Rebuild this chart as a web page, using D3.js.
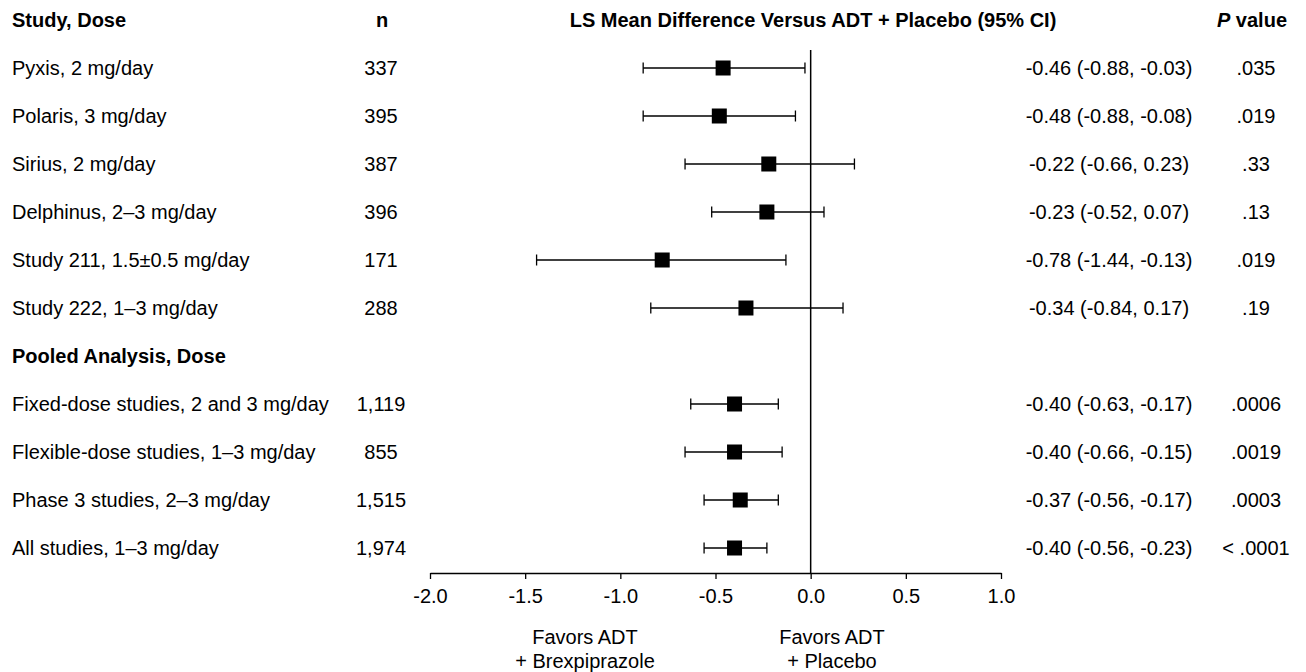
<!DOCTYPE html>
<html>
<head>
<meta charset="utf-8">
<script src="https://cdn.jsdelivr.net/npm/d3@7"></script>
<style>
  body { margin: 0; background: #fff; }
  text { font-family: "Liberation Sans", Arial, sans-serif; font-size: 20px; fill: #000; }
  .bold { font-weight: bold; }
</style>
</head>
<body>
<div id="chart"></div>
<script>
// forest plot data
var labels = ["Pyxis, 2 mg/day", "Polaris, 3 mg/day", "Sirius, 2 mg/day", "Delphinus, 2\u20133 mg/day",
  "Study 211, 1.5\u00b10.5 mg/day", "Study 222, 1\u20133 mg/day",
  "Fixed-dose studies, 2 and 3 mg/day", "Flexible-dose studies, 1\u20133 mg/day",
  "Phase 3 studies, 2\u20133 mg/day", "All studies, 1\u20133 mg/day"];
var nValues = ["337", "395", "387", "396", "171", "288", "1,119", "855", "1,515", "1,974"];
var estimates = [-0.46, -0.48, -0.22, -0.23, -0.78, -0.34, -0.40, -0.40, -0.37, -0.40];
var lower = [-0.88, -0.88, -0.66, -0.52, -1.44, -0.84, -0.63, -0.66, -0.56, -0.56];
var upper = [-0.03, -0.08, 0.23, 0.07, -0.13, 0.17, -0.17, -0.15, -0.17, -0.23];
var pValues = [".035", ".019", ".33", ".13", ".019", ".19", ".0006", ".0019", ".0003", "< .0001"];
// row slot for each study (slot 0 = header, slot 7 = pooled header)
var rowSlots = [1, 2, 3, 4, 5, 6, 8, 9, 10, 11];
var xTicks = [-2.0, -1.5, -1.0, -0.5, 0.0, 0.5, 1.0];

var width = 1306, height = 672;

var svg = d3.select("#chart").append("svg")
  .attr("width", width)
  .attr("height", height);

var x = d3.scaleLinear().domain([-2, 1]).range([430, 1001]);
var y = d3.scaleLinear().domain([0, 11]).range([20, 548]);

// plain hyphen instead of d3's unicode minus
function fmt(v) { return d3.format(".2f")(v).replace("\u2212", "-"); }
function fmt1(v) { return d3.format(".1f")(v).replace("\u2212", "-"); }

// ---- headers ----
svg.append("text").attr("class", "bold").attr("x", 12).attr("y", y(0)).attr("dy", "0.35em").text("Study, Dose");
svg.append("text").attr("class", "bold").attr("x", 382).attr("y", y(0)).attr("dy", "0.35em")
  .attr("text-anchor", "middle").text("n");
svg.append("text").attr("class", "bold").attr("x", 813).attr("y", y(0)).attr("dy", "0.35em")
  .attr("text-anchor", "middle").text("LS Mean Difference Versus ADT + Placebo (95% CI)");
var ph = svg.append("text").attr("class", "bold").attr("x", 1252).attr("y", y(0)).attr("dy", "0.35em")
  .attr("text-anchor", "middle");
ph.append("tspan").attr("font-style", "italic").text("P");
ph.append("tspan").text(" value");
svg.append("text").attr("class", "bold").attr("x", 12).attr("y", y(7)).attr("dy", "0.35em")
  .text("Pooled Analysis, Dose");

// ---- zero line ----
svg.append("line")
  .attr("x1", x(0)).attr("x2", x(0))
  .attr("y1", 50).attr("y2", 573)
  .attr("stroke", "#000").attr("stroke-width", 1.5);

// ---- axis ----
var axis = svg.append("g")
  .attr("transform", "translate(0,573)")
  .call(d3.axisBottom(x).tickValues(xTicks).tickFormat(fmt1).tickSize(6).tickSizeOuter(0).tickPadding(10));
axis.select(".domain").attr("stroke", "#000").attr("stroke-width", 1.3);
axis.selectAll(".tick line").attr("stroke", "#000").attr("stroke-width", 1.3);
axis.selectAll(".tick text")
  .style("font-family", "Liberation Sans, Arial, sans-serif")
  .style("font-size", "20px");

// favors labels
var favL = svg.append("text").attr("text-anchor", "middle").attr("x", 585).attr("y", 644);
favL.append("tspan").attr("x", 585).text("Favors ADT");
favL.append("tspan").attr("x", 585).attr("dy", 24).text("+ Brexpiprazole");
var favR = svg.append("text").attr("text-anchor", "middle").attr("x", 832).attr("y", 644);
favR.append("tspan").attr("x", 832).text("Favors ADT");
favR.append("tspan").attr("x", 832).attr("dy", 24).text("+ Placebo");

// ---- rows ----
var rows = svg.selectAll("g.row")
  .data(labels.map(function(d, i) { return i; }))
  .enter().append("g")
  .attr("class", "row")
  .attr("transform", function(i) { return "translate(0," + y(rowSlots[i]) + ")"; });

rows.append("text").attr("x", 12).attr("dy", "0.35em").text(function(i) { return labels[i]; });
rows.append("text").attr("x", 381).attr("dy", "0.35em").attr("text-anchor", "middle")
  .text(function(i) { return nValues[i]; });
rows.append("text").attr("x", 1109).attr("dy", "0.35em").attr("text-anchor", "middle")
  .text(function(i) { return fmt(estimates[i]) + " (" + fmt(lower[i]) + ", " + fmt(upper[i]) + ")"; });
rows.append("text").attr("x", 1256).attr("dy", "0.35em").attr("text-anchor", "middle")
  .text(function(i) { return pValues[i]; });

// CI whiskers
rows.append("line")
  .attr("x1", function(i) { return x(lower[i]); })
  .attr("x2", function(i) { return x(upper[i]); })
  .attr("stroke", "#000").attr("stroke-width", 1.3);
rows.append("line")
  .attr("x1", function(i) { return x(lower[i]); })
  .attr("x2", function(i) { return x(lower[i]); })
  .attr("y1", -5.5).attr("y2", 5.5)
  .attr("stroke", "#000").attr("stroke-width", 1.3);
rows.append("line")
  .attr("x1", function(i) { return x(upper[i]); })
  .attr("x2", function(i) { return x(upper[i]); })
  .attr("y1", -5.5).attr("y2", 5.5)
  .attr("stroke", "#000").attr("stroke-width", 1.3);

// point estimate squares
rows.append("rect")
  .attr("x", function(i) { return x(estimates[i]) - 7.5; })
  .attr("y", -7.5)
  .attr("width", 15).attr("height", 15)
  .attr("fill", "#000");
</script>
</body>
</html>
